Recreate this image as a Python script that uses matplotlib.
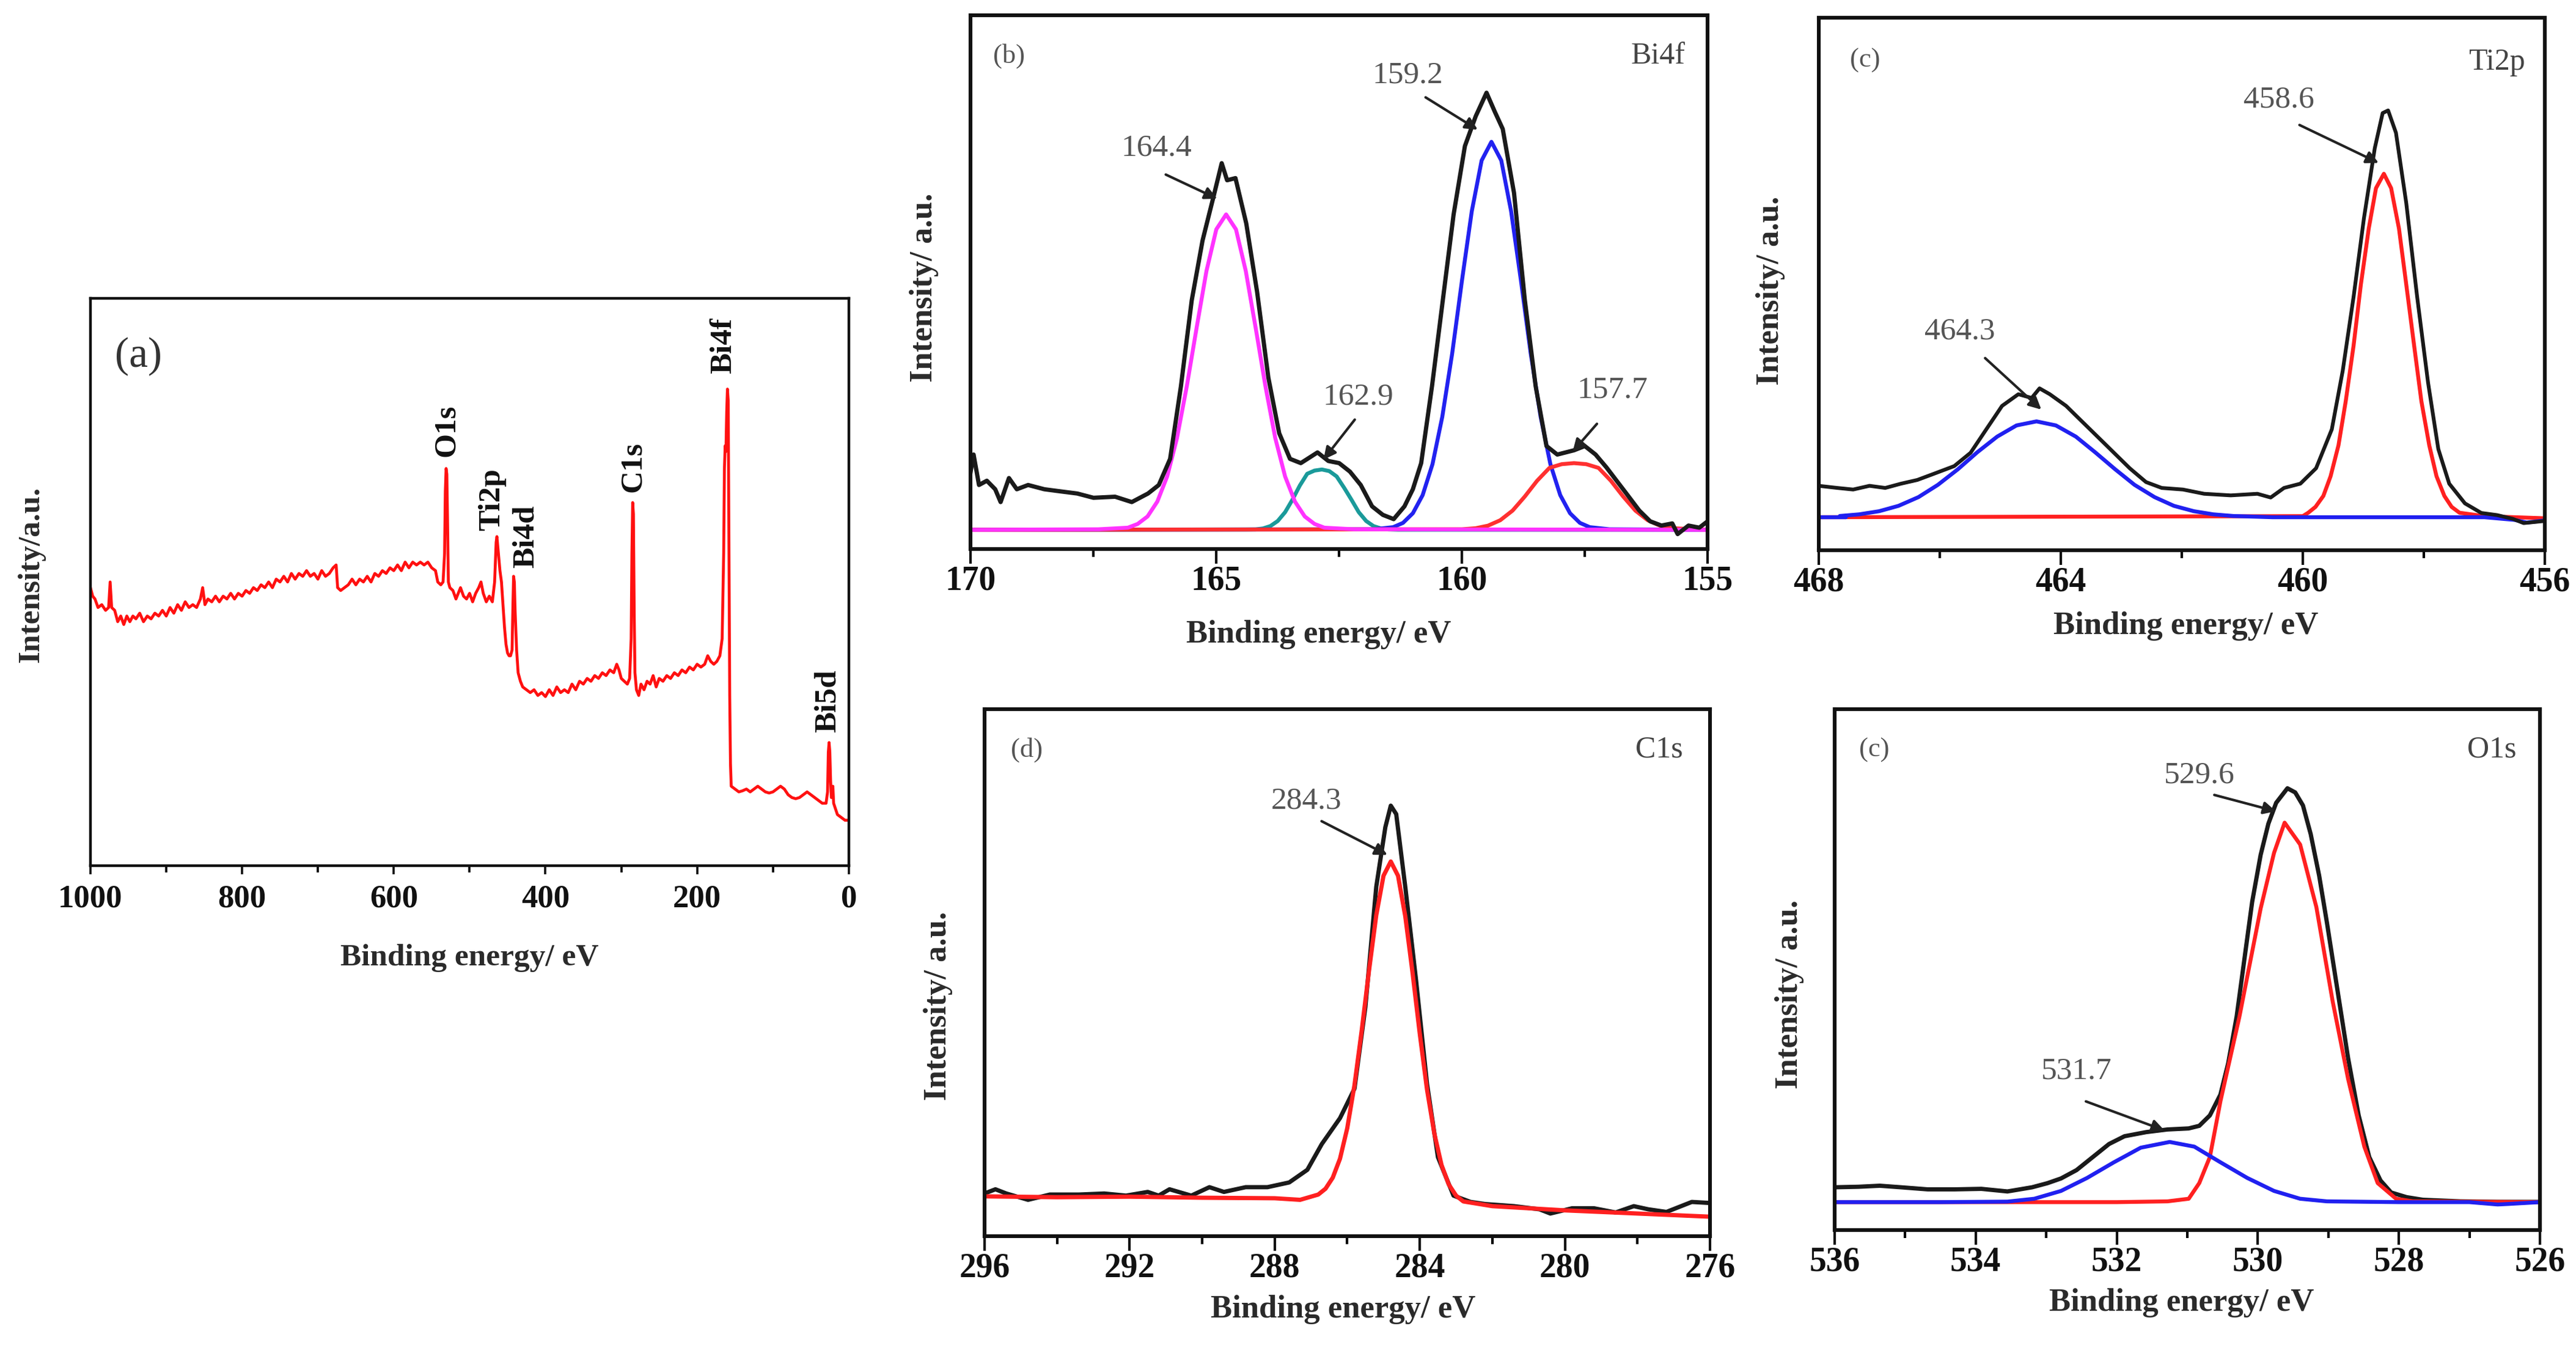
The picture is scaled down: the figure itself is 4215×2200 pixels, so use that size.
import matplotlib
matplotlib.use('Agg')
import matplotlib.pyplot as plt
from matplotlib.ticker import MultipleLocator

plt.rcParams['font.family'] = ['Liberation Serif', 'DejaVu Serif']

# ---------------- (a) survey spectrum ----------------
survey_be = [1000, 997, 994, 990, 985, 980, 976, 974, 972, 968, 964, 960, 956, 952, 948, 944, 940,
             935, 930, 925, 920, 915, 910, 905, 900, 895, 890, 885, 880, 875, 870, 865, 860, 855,
             852, 849, 845, 840, 835, 830, 825, 820, 815, 810, 805, 800, 795, 790, 785, 780, 775,
             770, 765, 760, 755, 750, 745, 740, 735, 730, 725, 720, 715, 710, 705, 700, 695, 690,
             685, 680, 676, 674, 670, 665, 660, 655, 650, 645, 640, 635, 630, 625, 620, 615, 610,
             605, 600, 595, 590, 585, 580, 575, 570, 565, 560, 555, 550, 545, 542, 538, 535, 533,
             532, 531, 530, 529, 528, 526, 522, 518, 515, 512, 508, 504, 500, 496, 492, 488, 485,
             482, 478, 474, 470, 467, 465, 464, 462, 460, 458, 456, 454, 452, 450, 448, 446, 444,
             443, 442, 441, 440, 438, 436, 433, 430, 425, 420, 415, 410, 405, 400, 395, 390, 385,
             380, 375, 370, 365, 360, 355, 350, 345, 340, 335, 330, 325, 320, 315, 310, 306, 303,
             300, 296, 292, 289, 287, 286, 285, 284, 283, 282, 280, 277, 274, 270, 266, 262, 258,
             254, 250, 245, 240, 235, 230, 225, 220, 215, 210, 205, 200, 195, 190, 186, 182, 178,
             174, 170, 167, 165, 164, 163, 162, 161, 160, 159, 158, 157, 156, 155, 150, 145, 140,
             135, 130, 125, 120, 115, 110, 105, 100, 95, 90, 85, 80, 75, 70, 65, 60, 55, 50, 45,
             40, 35, 30, 28, 27, 26, 25, 24, 23, 22, 21, 20, 15, 10, 5, 0]
survey_int = [0.49, 0.475, 0.47, 0.455, 0.46, 0.45, 0.455, 0.50, 0.455, 0.45, 0.43, 0.44, 0.425, 0.44,
              0.43, 0.44, 0.435, 0.445, 0.43, 0.44, 0.435, 0.445, 0.44, 0.45, 0.44, 0.455, 0.445,
              0.46, 0.45, 0.465, 0.455, 0.46, 0.455, 0.47, 0.49, 0.46, 0.47, 0.465, 0.475, 0.465,
              0.475, 0.47, 0.48, 0.47, 0.48, 0.475, 0.485, 0.48, 0.49, 0.485, 0.495, 0.49, 0.50,
              0.49, 0.505, 0.50, 0.51, 0.50, 0.515, 0.505, 0.515, 0.51, 0.52, 0.51, 0.515, 0.505,
              0.52, 0.51, 0.515, 0.525, 0.53, 0.49, 0.485, 0.49, 0.495, 0.505, 0.495, 0.505, 0.50,
              0.51, 0.50, 0.515, 0.51, 0.52, 0.515, 0.525, 0.52, 0.53, 0.52, 0.535, 0.525, 0.535,
              0.53, 0.535, 0.53, 0.535, 0.525, 0.52, 0.50, 0.495, 0.50, 0.55, 0.66, 0.70, 0.69,
              0.60, 0.50, 0.49, 0.485, 0.47, 0.48, 0.49, 0.475, 0.47, 0.48, 0.465, 0.48, 0.49,
              0.50, 0.48, 0.465, 0.475, 0.465, 0.50, 0.57, 0.58, 0.55, 0.52, 0.50, 0.46, 0.42,
              0.39, 0.375, 0.37, 0.37, 0.38, 0.45, 0.51, 0.50, 0.45, 0.38, 0.34, 0.325, 0.315,
              0.31, 0.305, 0.31, 0.30, 0.305, 0.298, 0.31, 0.30, 0.315, 0.305, 0.31, 0.305, 0.32,
              0.31, 0.325, 0.32, 0.33, 0.325, 0.335, 0.33, 0.34, 0.335, 0.345, 0.34, 0.355, 0.345,
              0.33, 0.325, 0.32, 0.33, 0.40, 0.55, 0.64, 0.62, 0.45, 0.34, 0.31, 0.30, 0.32, 0.31,
              0.325, 0.32, 0.335, 0.315, 0.33, 0.325, 0.335, 0.33, 0.34, 0.335, 0.345, 0.34, 0.35,
              0.345, 0.355, 0.35, 0.355, 0.37, 0.36, 0.355, 0.36, 0.37, 0.40, 0.55, 0.70, 0.74,
              0.73, 0.80, 0.84, 0.82, 0.55, 0.30, 0.18, 0.14, 0.135, 0.13, 0.132, 0.135, 0.13,
              0.135, 0.14, 0.135, 0.13, 0.128, 0.13, 0.135, 0.14, 0.135, 0.125, 0.12, 0.118, 0.12,
              0.125, 0.13, 0.125, 0.12, 0.115, 0.11, 0.11, 0.13, 0.20, 0.217, 0.20, 0.15, 0.12,
              0.13, 0.14, 0.11, 0.09, 0.085, 0.08, 0.08]
survey_labels = ['O1s', 'Ti2p', 'Bi4d', 'C1s', 'Bi4f', 'Bi5d']
survey_label_be = [530, 470.6, 426, 284.5, 165, 27.5]
survey_label_y = [0.767, 0.645, 0.58, 0.703, 0.917, 0.29]

# ---------------- (b) Bi4f ----------------
bi_raw_be = [170.0, 169.94, 169.83, 169.67, 169.5, 169.39, 169.22, 169.06, 168.83, 168.5, 168.17,
             167.83, 167.5, 167.06, 166.72, 166.39, 166.17, 165.94, 165.72, 165.5, 165.28, 165.06,
             164.89, 164.78, 164.61, 164.39, 164.17, 163.94, 163.72, 163.5, 163.28, 162.94,
             162.72, 162.5, 162.28, 162.06, 161.83, 161.61, 161.39, 161.17, 161.0, 160.83,
             160.61, 160.39, 160.17, 159.94, 159.72, 159.5, 159.33, 159.17, 158.94, 158.72,
             158.5, 158.28, 158.06, 157.72, 157.5, 157.28, 157.06, 156.72, 156.39, 156.17,
             155.94, 155.72, 155.61, 155.39, 155.17, 155.0]
bi_raw_int = [0.145, 0.177, 0.12, 0.128, 0.112, 0.088, 0.133, 0.112, 0.12, 0.112, 0.108, 0.104,
              0.096, 0.098, 0.088, 0.104, 0.12, 0.169, 0.305, 0.466, 0.578, 0.659, 0.723, 0.691,
              0.695, 0.61, 0.482, 0.321, 0.217, 0.169, 0.161, 0.181, 0.165, 0.161, 0.145, 0.12,
              0.08, 0.064, 0.056, 0.08, 0.112, 0.161, 0.305, 0.466, 0.627, 0.755, 0.811, 0.855,
              0.819, 0.787, 0.667, 0.466, 0.305, 0.193, 0.177, 0.185, 0.193, 0.177, 0.153, 0.112,
              0.072, 0.052, 0.044, 0.048, 0.028, 0.044, 0.04, 0.052]
bi_pink_be = [170.0, 167.4, 166.8, 166.6, 166.4, 166.2, 166.0, 165.8, 165.6, 165.4, 165.2, 165.0,
              164.8, 164.6, 164.4, 164.2, 164.0, 163.8, 163.6, 163.4, 163.2, 163.0, 162.8,
              162.2, 155.0]
bi_pink_int = [0.036, 0.037, 0.040, 0.047, 0.061, 0.089, 0.136, 0.208, 0.305, 0.415, 0.521, 0.599,
               0.627, 0.599, 0.521, 0.415, 0.305, 0.208, 0.136, 0.089, 0.061, 0.047, 0.040,
               0.037, 0.036]
bi_teal_be = [170.0, 164.4, 164.2, 164.05, 163.9, 163.75, 163.6, 163.45, 163.3, 163.15, 163.0,
              162.85, 162.7, 162.55, 162.4, 162.25, 162.1, 161.95, 161.8, 161.65, 161.5, 161.3,
              155.0]
bi_teal_int = [0.036, 0.0366, 0.0368, 0.0386, 0.043, 0.0525, 0.069, 0.0925, 0.119, 0.141, 0.147,
               0.149, 0.146, 0.136, 0.115, 0.0925, 0.069, 0.0525, 0.043, 0.0386, 0.0368, 0.0362,
               0.036]
bi_blue_be = [170.0, 161.8, 161.4, 161.2, 161.0, 160.8, 160.6, 160.4, 160.2, 160.0, 159.8, 159.6,
              159.4, 159.2, 159.0, 158.8, 158.6, 158.4, 158.2, 158.0, 157.8, 157.6, 157.4,
              157.0, 155.0]
bi_blue_int = [0.036, 0.037, 0.041, 0.049, 0.067, 0.101, 0.159, 0.248, 0.366, 0.503, 0.633, 0.728,
               0.763, 0.728, 0.633, 0.503, 0.366, 0.248, 0.159, 0.101, 0.067, 0.049, 0.041,
               0.037, 0.036]
bi_red_be = [170.0, 160.0, 159.72, 159.47, 159.22, 158.97, 158.72, 158.47, 158.22, 157.97,
             157.72, 157.47, 157.22, 156.97, 156.72, 156.47, 156.22, 155.97, 155.72, 155.0]
bi_red_int = [0.036, 0.037, 0.039, 0.0438, 0.054, 0.072, 0.0985, 0.128, 0.152, 0.159, 0.161,
              0.159, 0.152, 0.128, 0.0985, 0.072, 0.054, 0.0438, 0.039, 0.036]

# ---------------- (c) Ti2p ----------------
ti_raw_be = [468.0, 467.69, 467.43, 467.16, 466.9, 466.64, 466.37, 466.11, 465.76, 465.49, 465.23,
             464.97, 464.7, 464.48, 464.35, 464.18, 463.91, 463.65, 463.38, 463.12, 462.86,
             462.59, 462.33, 461.98, 461.63, 461.19, 460.75, 460.53, 460.31, 460.04, 459.78,
             459.52, 459.34, 459.16, 458.99, 458.81, 458.68, 458.59, 458.46, 458.29, 458.11,
             457.93, 457.76, 457.58, 457.32, 457.05, 456.79, 456.53, 456.35, 456.0]
ti_raw_int = [0.121, 0.117, 0.114, 0.121, 0.117, 0.125, 0.132, 0.143, 0.158, 0.183, 0.227, 0.271,
              0.293, 0.286, 0.304, 0.293, 0.271, 0.242, 0.212, 0.183, 0.154, 0.128, 0.117, 0.114,
              0.106, 0.103, 0.106, 0.099, 0.117, 0.125, 0.154, 0.227, 0.337, 0.476, 0.623, 0.755,
              0.821, 0.826, 0.784, 0.652, 0.476, 0.315, 0.190, 0.125, 0.088, 0.070, 0.066, 0.059,
              0.051, 0.055]
ti_blue_be = [468.0, 467.55, 467.65, 467.33, 467.0, 466.68, 466.35, 466.03, 465.7, 465.38,
              465.05, 464.73, 464.4, 464.08, 463.75, 463.43, 463.1, 462.78, 462.45, 462.13, 461.8,
              461.48, 461.15, 460.5, 457.0, 456.5, 456.3, 456.0]
ti_blue_int = [0.062, 0.062, 0.0643, 0.0674, 0.0733, 0.0834, 0.0998, 0.1228, 0.152, 0.1839,
               0.2134, 0.2344, 0.242, 0.2344, 0.2134, 0.1839, 0.152, 0.1228, 0.0998, 0.0834,
               0.0733, 0.0674, 0.0643, 0.062, 0.062, 0.057, 0.052, 0.056]
ti_red_be = [468.0, 460.0, 459.91, 459.79, 459.66, 459.54, 459.41, 459.29, 459.16, 459.04, 458.91,
             458.79, 458.66, 458.54, 458.41, 458.29, 458.16, 458.04, 457.91, 457.79, 457.66,
             457.54, 457.41, 457.0, 456.0]
ti_red_int = [0.062, 0.064, 0.0704, 0.0814, 0.102, 0.139, 0.197, 0.280, 0.3845, 0.499, 0.604,
              0.680, 0.707, 0.680, 0.604, 0.499, 0.3845, 0.280, 0.197, 0.139, 0.102, 0.0814,
              0.0704, 0.064, 0.060]

# ---------------- (d) C1s ----------------
c_raw_be = [296.0, 295.7, 295.4, 294.8, 294.2, 293.4, 292.7, 292.1, 291.5, 291.2, 290.9, 290.3,
            289.8, 289.4, 288.8, 288.2, 287.6, 287.1, 286.7, 286.2, 285.8, 285.5, 285.2, 284.95,
            284.8, 284.65, 284.4, 284.1, 283.8, 283.5, 283.07, 282.6, 282.2, 281.4, 280.7,
            280.4, 279.8, 279.2, 278.6, 278.1, 277.7, 277.2, 276.5, 276.0]
c_raw_int = [0.081, 0.089, 0.081, 0.069, 0.079, 0.079, 0.081, 0.077, 0.084, 0.077, 0.089, 0.077,
             0.093, 0.084, 0.093, 0.093, 0.102, 0.126, 0.175, 0.224, 0.280, 0.435, 0.663, 0.776,
             0.817, 0.801, 0.663, 0.484, 0.289, 0.150, 0.077, 0.065, 0.061, 0.057, 0.051, 0.043,
             0.053, 0.053, 0.045, 0.057, 0.051, 0.046, 0.065, 0.063]
c_red_be = [296.0, 294.0, 292.0, 290.0, 288.0, 287.3, 286.8, 286.6, 286.4, 286.2, 286.0, 285.8,
            285.6, 285.4, 285.2, 285.0, 284.8, 284.6, 284.4, 284.2, 284.0, 283.8, 283.6, 283.4,
            283.2, 283.0, 282.8, 282.0, 280.0, 278.0, 276.0]
c_red_int = [0.0756, 0.074, 0.075, 0.073, 0.072, 0.069, 0.079, 0.090, 0.111, 0.147, 0.205, 0.287,
             0.391, 0.504, 0.609, 0.684, 0.711, 0.684, 0.607, 0.500, 0.384, 0.278, 0.195, 0.135,
             0.098, 0.077, 0.066, 0.057, 0.049, 0.043, 0.037]

# ---------------- (e) O1s ----------------
o_raw_be = [536.0, 535.66, 535.36, 535.06, 534.68, 534.3, 533.92, 533.55, 533.2, 532.98, 532.79,
            532.57, 532.34, 532.11, 531.89, 531.58, 531.28, 530.98, 530.83, 530.68, 530.53, 530.42,
            530.3, 530.19, 530.08, 529.96, 529.85, 529.74, 529.58, 529.47, 529.36, 529.25, 529.13,
            529.02, 528.87, 528.72, 528.57, 528.42, 528.26, 528.11, 527.89, 527.66, 527.13,
            526.6, 526.0]
o_raw_int = [0.082, 0.083, 0.085, 0.082, 0.078, 0.078, 0.079, 0.074, 0.082, 0.090, 0.099, 0.115,
             0.140, 0.165, 0.180, 0.188, 0.193, 0.195, 0.200, 0.220, 0.260, 0.320, 0.410, 0.520,
             0.630, 0.720, 0.780, 0.820, 0.848, 0.840, 0.815, 0.760, 0.680, 0.590, 0.460, 0.330,
             0.220, 0.140, 0.095, 0.072, 0.063, 0.058, 0.055, 0.054, 0.054]
o_blue_be = [536.0, 534.5, 533.55, 533.17, 532.79, 532.42, 532.04, 531.66, 531.25, 530.9, 530.53,
             530.15, 529.77, 529.4, 529.02, 528.0, 527.0, 526.6, 526.45, 526.0]
o_blue_int = [0.0535, 0.0535, 0.0545, 0.060, 0.075, 0.100, 0.130, 0.158, 0.169, 0.160, 0.130,
              0.100, 0.075, 0.060, 0.055, 0.0535, 0.0535, 0.049, 0.050, 0.0535]
o_red_be = [536.0, 532.0, 531.28, 530.98, 530.83, 530.68, 530.53, 530.26, 529.96, 529.77, 529.62,
            529.4, 529.17, 528.94, 528.72, 528.49, 528.3, 528.04, 527.8, 526.0]
o_red_int = [0.0535, 0.0535, 0.055, 0.060, 0.090, 0.140, 0.247, 0.410, 0.617, 0.724, 0.782,
             0.740, 0.620, 0.440, 0.290, 0.160, 0.090, 0.060, 0.055, 0.0535]

FS_TICK = 40
FS_LAB = 38
FS_NUM = 37
GREY = '#555555'
LW_RAW = 5.0
LW_FIT = 4.6


def style_fine(ax, xlim, major, minor):
    ax.set_xlim(xlim)
    ax.set_ylim(0, 1)
    ax.xaxis.set_major_locator(MultipleLocator(major))
    ax.xaxis.set_minor_locator(MultipleLocator(minor))
    ax.set_yticks([])
    ax.tick_params(axis='x', which='major', direction='out', length=17, width=3,
                   labelsize=FS_TICK, pad=2, colors='#111111')
    ax.tick_params(axis='x', which='minor', direction='out', length=9, width=3)
    for lab in ax.get_xticklabels():
        lab.set_fontweight('bold')
    for sp in ax.spines.values():
        sp.set_linewidth(4.4)
        sp.set_color('#111111')


def arrow(ax, text, txy, start, tip):
    ax.text(txy[0], txy[1], text, fontsize=FS_NUM, color=GREY, ha='center', va='center')
    ax.annotate('', xy=tip, xytext=start,
                arrowprops=dict(arrowstyle='-|>', color='#222222', lw=3, mutation_scale=30))


def labels(ax, xl, yl, xpos, ypos):
    ax.text(xpos[0], xpos[1], xl, transform=ax.transAxes, fontsize=FS_LAB, fontweight='bold',
            color='#2a2a2a', ha='center', va='center')
    ax.text(ypos[0], ypos[1], yl, transform=ax.transAxes, fontsize=FS_LAB, fontweight='bold',
            color='#2a2a2a', ha='center', va='center', rotation=90)


fig = plt.figure(figsize=(42.15, 22), dpi=100)

# (a)
axa = fig.add_axes([0.0351, 0.3564, 0.2944, 0.4218])
axa.plot(survey_be, survey_int, color='#ff1010', lw=3.4)
axa.set_xlim(1000, 0)
axa.set_ylim(0, 1)
axa.xaxis.set_major_locator(MultipleLocator(200))
axa.xaxis.set_minor_locator(MultipleLocator(100))
axa.set_yticks([])
axa.tick_params(axis='x', which='major', direction='out', length=10, width=2.6,
                labelsize=38, pad=12, colors='#111111')
axa.tick_params(axis='x', which='minor', direction='out', length=8, width=2.6)
for lab in axa.get_xticklabels():
    lab.set_fontweight('bold')
for sp in axa.spines.values():
    sp.set_linewidth(3.2)
    sp.set_color('#111111')
for name, be, yy in zip(survey_labels, survey_label_be, survey_label_y):
    axa.text(be, yy, name, rotation=90, fontsize=37, fontweight='bold', color='#111111',
             ha='center', va='center')
axa.text(0.063, 0.897, '(a)', transform=axa.transAxes, fontsize=50, color='#333333',
         ha='center', va='center')
axa.text(0.5, -0.163, 'Binding energy/ eV', transform=axa.transAxes, fontsize=37,
         fontweight='bold', color='#2a2a2a', ha='center', va='center')
axa.text(-0.078, 0.513, 'Intensity/a.u.', transform=axa.transAxes, fontsize=37,
         fontweight='bold', color='#2a2a2a', ha='center', va='center', rotation=90)

# (b)
axb = fig.add_axes([0.3768, 0.5918, 0.2861, 0.3968])
axb.plot(bi_teal_be, bi_teal_int, color='#1a9a9a', lw=LW_FIT)
axb.plot(bi_blue_be, bi_blue_int, color='#2222f0', lw=LW_FIT)
axb.plot(bi_red_be, bi_red_int, color='#ff3030', lw=LW_FIT)
axb.plot(bi_pink_be, bi_pink_int, color='#ff33ff', lw=LW_FIT)
axb.plot(bi_raw_be, bi_raw_int, color='#1a1a1a', lw=LW_RAW)
style_fine(axb, (170, 155), 5, 2.5)
arrow(axb, '164.4', (166.22, 0.751), (166.06, 0.703), (164.95, 0.655))
arrow(axb, '162.9', (162.11, 0.285), (162.16, 0.245), (162.84, 0.165))
arrow(axb, '159.2', (161.11, 0.888), (160.77, 0.848), (159.65, 0.784))
arrow(axb, '157.7', (156.94, 0.298), (157.23, 0.237), (157.77, 0.180))
axb.text(0.052, 0.924, '(b)', transform=axb.transAxes, fontsize=32, color=GREY,
         ha='center', va='center')
axb.text(0.933, 0.924, 'Bi4f', transform=axb.transAxes, fontsize=36, color='#444444',
         ha='center', va='center')
labels(axb, 'Binding energy/ eV', 'Intensity/ a.u.', (0.472, -0.160), (-0.063, 0.49))

# (c)
axc = fig.add_axes([0.7060, 0.5909, 0.2819, 0.3959])
axc.plot(ti_red_be, ti_red_int, color='#ff2020', lw=LW_FIT)
axc.plot(ti_blue_be, ti_blue_int, color='#2020f0', lw=LW_FIT)
axc.plot(ti_raw_be, ti_raw_int, color='#1a1a1a', lw=LW_RAW - 0.6)
style_fine(axc, (468, 456), 4, 2)
arrow(axc, '458.6', (460.39, 0.846), (460.08, 0.80), (458.72, 0.726))
arrow(axc, '464.3', (465.67, 0.411), (465.27, 0.363), (464.3, 0.262))
axc.text(0.064, 0.92, '(c)', transform=axc.transAxes, fontsize=32, color=GREY,
         ha='center', va='center')
axc.text(0.934, 0.916, 'Ti2p', transform=axc.transAxes, fontsize=36, color='#444444',
         ha='center', va='center')
labels(axc, 'Binding energy/ eV', 'Intensity/ a.u.', (0.506, -0.142), (-0.066, 0.488))

# (d)
axd = fig.add_axes([0.3822, 0.0809, 0.2816, 0.3918])
axd.plot(c_raw_be, c_raw_int, color='#1a1a1a', lw=LW_RAW)
axd.plot(c_red_be, c_red_int, color='#ff2020', lw=LW_RAW)
style_fine(axd, (296, 276), 4, 2)
arrow(axd, '284.3', (287.12, 0.826), (286.75, 0.789), (284.85, 0.722))
axd.text(0.058, 0.923, '(d)', transform=axd.transAxes, fontsize=32, color=GREY,
         ha='center', va='center')
axd.text(0.93, 0.923, 'C1s', transform=axd.transAxes, fontsize=36, color='#444444',
         ha='center', va='center')
labels(axd, 'Binding energy/ eV', 'Intensity/ a.u.', (0.494, -0.139), (-0.064, 0.437))

# (e)
axe = fig.add_axes([0.7122, 0.0855, 0.2738, 0.3873])
axe.plot(o_raw_be, o_raw_int, color='#1a1a1a', lw=LW_RAW)
axe.plot(o_red_be, o_red_int, color='#ff2020', lw=LW_FIT)
axe.plot(o_blue_be, o_blue_int, color='#2020f0', lw=LW_FIT)
style_fine(axe, (536, 526), 2, 1)
arrow(axe, '529.6', (530.83, 0.873), (530.64, 0.836), (529.72, 0.803))
arrow(axe, '531.7', (532.57, 0.305), (532.46, 0.248), (531.3, 0.19))
axe.text(0.056, 0.922, '(c)', transform=axe.transAxes, fontsize=32, color=GREY,
         ha='center', va='center')
axe.text(0.932, 0.922, 'O1s', transform=axe.transAxes, fontsize=36, color='#444444',
         ha='center', va='center')
labels(axe, 'Binding energy/ eV', 'Intensity/ a.u.', (0.492, -0.140), (-0.064, 0.453))

fig.savefig('out.png', dpi=100, facecolor='white')
